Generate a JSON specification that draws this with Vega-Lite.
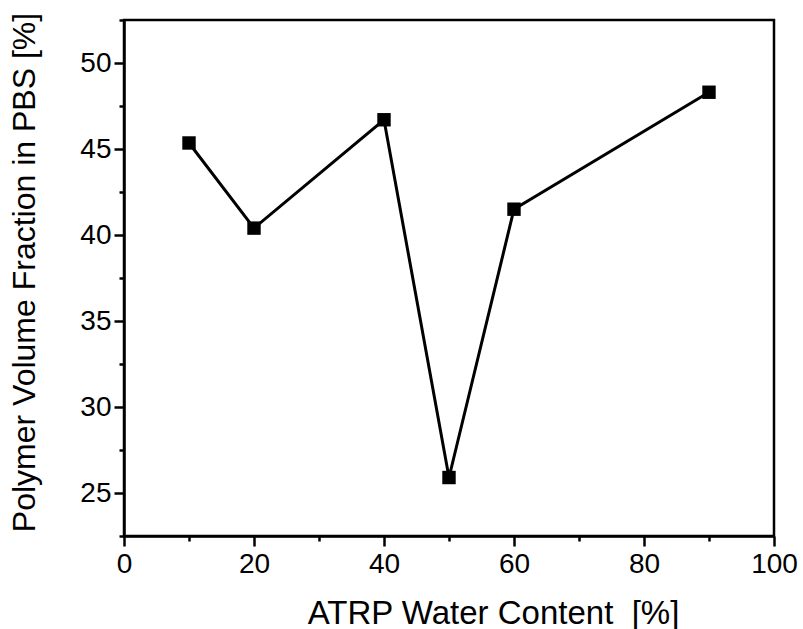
{
  "$schema": "https://vega.github.io/schema/vega-lite/v6.json",
  "autosize": "none",
  "width": 650,
  "height": 516,
  "padding": {"left": 124, "top": 20, "right": 29, "bottom": 93},
  "background": "white",
  "config": {
    "view": {"stroke": "black", "strokeWidth": 2.5},
    "axis": {
      "domainColor": "black",
      "domainWidth": 2.5,
      "tickColor": "black",
      "tickWidth": 2.5,
      "grid": false,
      "labelFont": "Liberation Sans",
      "labelFontSize": 28,
      "labelColor": "black",
      "titleFont": "Liberation Sans",
      "titleFontWeight": "normal",
      "titleColor": "black"
    }
  },
  "data": {
    "values": [
      {"water": 10, "fraction": 45.35},
      {"water": 20, "fraction": 40.4},
      {"water": 40, "fraction": 46.7},
      {"water": 50, "fraction": 25.9},
      {"water": 60, "fraction": 41.5},
      {"water": 90, "fraction": 48.3}
    ]
  },
  "encoding": {
    "x": {
      "field": "water",
      "type": "quantitative",
      "scale": {"domain": [0, 100], "nice": false},
      "axis": {
        "title": "ATRP Water Content\u00a0 [%]",
        "titleFontSize": 33,
        "titleX": 369,
        "titleAnchor": "middle",
        "values": [0, 10, 20, 30, 40, 50, 60, 70, 80, 90, 100],
        "labelExpr": "datum.value % 20 === 0 ? datum.label : ''",
        "tickSize": {"condition": {"test": "datum.value % 20 === 0", "value": 10}, "value": 5},
        "labelPadding": 4,
        "labelFlush": false,
        "titlePadding": 19
      }
    },
    "y": {
      "field": "fraction",
      "type": "quantitative",
      "scale": {"domain": [22.5, 52.5], "nice": false, "zero": false},
      "axis": {
        "title": "Polymer Volume Fraction in PBS [%]",
        "titleFontSize": 32,
        "titleY": 252,
        "titleAnchor": "middle",
        "values": [22.5, 25, 27.5, 30, 32.5, 35, 37.5, 40, 42.5, 45, 47.5, 50, 52.5],
        "labelExpr": "datum.value % 5 === 0 ? datum.label : ''",
        "tickSize": {"condition": {"test": "datum.value % 5 === 0", "value": 10}, "value": 5},
        "labelPadding": 3,
        "labelFlush": false,
        "titlePadding": 38
      }
    }
  },
  "layer": [
    {"mark": {"type": "line", "color": "black", "strokeWidth": 3}},
    {"mark": {"type": "point", "shape": "square", "filled": true, "color": "black", "opacity": 1, "size": 180}}
  ]
}
